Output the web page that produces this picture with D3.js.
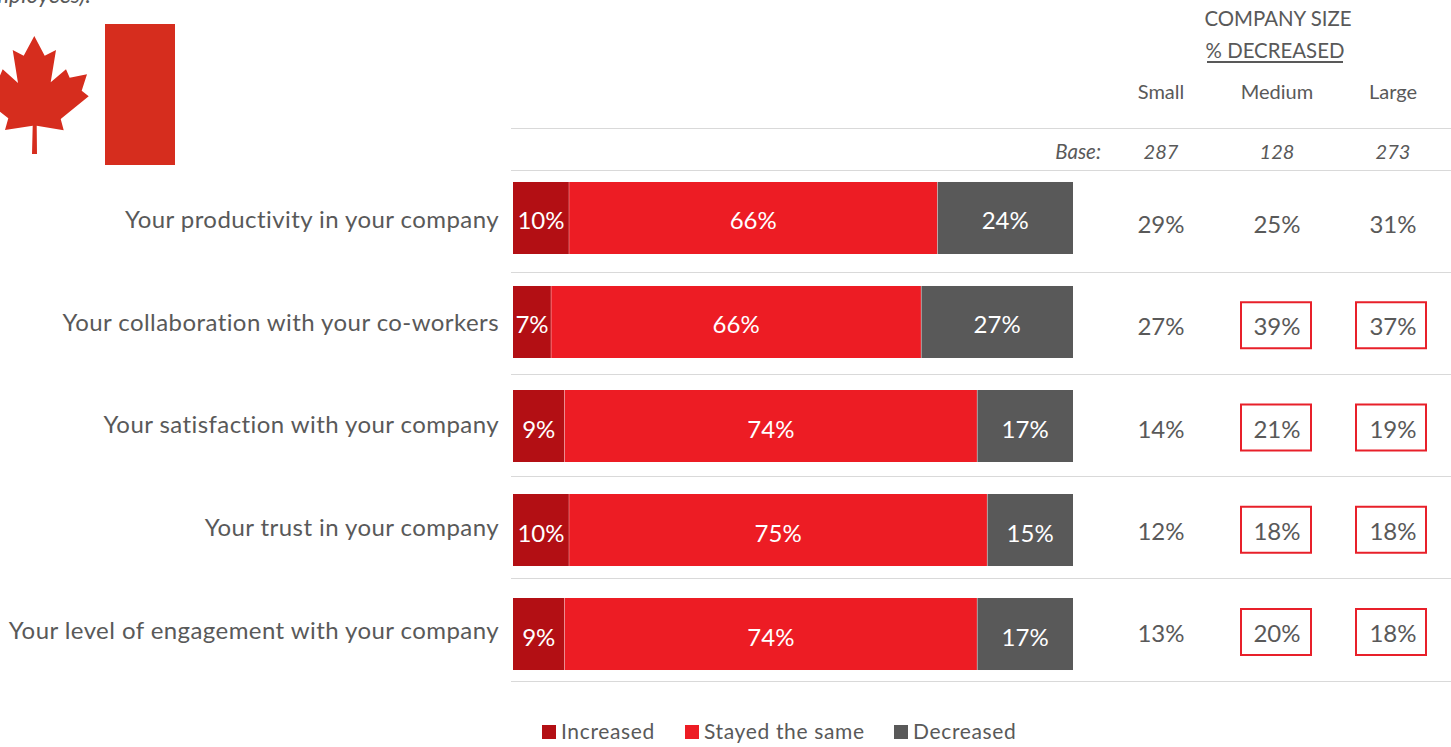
<!DOCTYPE html>
<html><head><meta charset="utf-8">
<script src="https://cdn.jsdelivr.net/npm/d3@7"></script>
<style>
html,body{margin:0;padding:0;background:#fff;overflow:hidden}
svg{display:block}
text{font-family:Lato,"Open Sans",sans-serif}
</style></head><body>
<svg id="c" width="1451" height="747"></svg>
<script>
const categories=["Your productivity in your company","Your collaboration with your co-workers","Your satisfaction with your company","Your trust in your company","Your level of engagement with your company"];
const seriesNames=["Increased","Stayed the same","Decreased"];
const increased=[10,6.8,9.2,10,9.2];
const stayed=[65.8,66.1,73.7,74.7,73.7];
const decreased=[24.2,27.1,17.1,15.3,17.1];
const sizeNames=["Small","Medium","Large"];
const sizeBase=[287,128,273];
const small=[29,27,14,12,13];
const medium=[25,39,21,18,20];
const large=[31,37,19,18,18];
const mediumBoxed=[false,true,true,true,true];
const largeBoxed=[false,true,true,true,true];
const colors=["#b30f14","#ed1c24","#595959"];
const ink="#595959";

const svg=d3.select("#c");
const x=d3.scaleLinear().domain([0,100]).range([513,1073]);
const y=d3.scaleBand().domain(categories).range([166,686]).paddingInner(0.3077).paddingOuter(0.1538);
const rowY=d3.scalePoint().domain(categories).range([225,634]);
const labelY=d3.scalePoint().domain(categories).range([228,638.5]);
const cx=d3.scalePoint().domain(sizeNames).range([1161,1393]);
const series=[increased,stayed,decreased];

// flag
svg.append("rect").attr("x",105).attr("y",24).attr("width",70).attr("height",141).attr("fill","#d62d1e");
svg.append("path").attr("fill","#d62d1e").attr("d","M34.3 36L44.7 55.7L56 50L50.7 82.3L66 69.3L69.7 77.7L87 74.3L81.7 90.7L88.7 96.3L60.7 119L63.7 130.3L36.7 125.7L37 154L32 154L32.7 125.7L5 130L8.3 118.3L-20 96.3L-13 90.7L-18 74.3L-1 77.7L2.7 69.3L18 83L12.7 50L23.7 55.7Z");
svg.append("text").attr("x",-20).attr("y",3).attr("font-size",23).attr("font-style","italic").attr("fill",ink).text("employees).");

// rules
[128,170,272,374,476,578,681].forEach(r=>svg.append("line").attr("x1",511).attr("x2",1451).attr("y1",r+.5).attr("y2",r+.5).attr("stroke","#d9d9d9").attr("stroke-width",1));

// bars
categories.forEach((c,i)=>{
  let acc=0;
  series.forEach((s,k)=>{
    const v=s[i];
    svg.append("rect").attr("x",x(acc)).attr("y",y(c)).attr("width",x(acc+v)-x(acc)).attr("height",y.bandwidth()).attr("fill",colors[k]);
    if(acc>0) svg.append("line").attr("x1",x(acc)).attr("x2",x(acc)).attr("y1",y(c)).attr("y2",y(c)+y.bandwidth()).attr("stroke","#fff").attr("stroke-opacity",.35).attr("stroke-width",1);
    svg.append("text").attr("x",x(acc+v/2)).attr("y",y(c)+y.bandwidth()/2+11.5).attr("text-anchor","middle").attr("font-size",24).attr("fill","#fff").text(Math.round(v)+"%");
    acc+=v;
  });
  svg.append("text").attr("x",499).attr("y",labelY(c)).attr("text-anchor","end").attr("font-size",24).attr("letter-spacing",.43).attr("fill",ink).text(c);
  [[small,null],[medium,mediumBoxed],[large,largeBoxed]].forEach(([arr,box],j)=>{
    const px=cx(sizeNames[j]), py=rowY(c);
    svg.append("text").attr("x",px).attr("y",py+8).attr("text-anchor","middle").attr("font-size",24).attr("fill",ink).text(arr[i]+"%");
    if(box&&box[i]) svg.append("rect").attr("x",j===2?px-37:px-36).attr("y",py-25).attr("width",70).attr("height",46).attr("fill","none").attr("stroke","#e8202a").attr("stroke-width",2);
  });
});

// header
svg.append("text").attr("x",1278).attr("y",26).attr("text-anchor","middle").attr("font-size",20.4).attr("fill",ink).text("COMPANY SIZE");
svg.append("text").attr("x",1275).attr("y",58).attr("text-anchor","middle").attr("font-size",20.4).attr("fill",ink).text("% DECREASED");
svg.append("line").attr("x1",1207).attr("x2",1343).attr("y1",62).attr("y2",62).attr("stroke",ink).attr("stroke-width",2);
sizeNames.forEach((n,j)=>{
  svg.append("text").attr("x",cx(n)).attr("y",99).attr("text-anchor","middle").attr("font-size",20).attr("fill",ink).text(n);
  svg.append("text").attr("x",cx(n)).attr("y",159).attr("text-anchor","middle").attr("font-size",20).attr("font-style","italic").attr("fill",ink).text(sizeBase[j]);
});
svg.append("text").attr("x",1101).attr("y",159).attr("text-anchor","end").attr("font-size",20.5).attr("font-style","italic").attr("fill",ink).text("Base:");

// legend
const lx=[542,685,894];
seriesNames.forEach((n,k)=>{
  svg.append("rect").attr("x",lx[k]).attr("y",725).attr("width",14).attr("height",14).attr("fill",colors[k]);
  svg.append("text").attr("x",lx[k]+19).attr("y",739).attr("font-size",21).attr("letter-spacing",.65).attr("fill",ink).text(n);
});
</script></body></html>
